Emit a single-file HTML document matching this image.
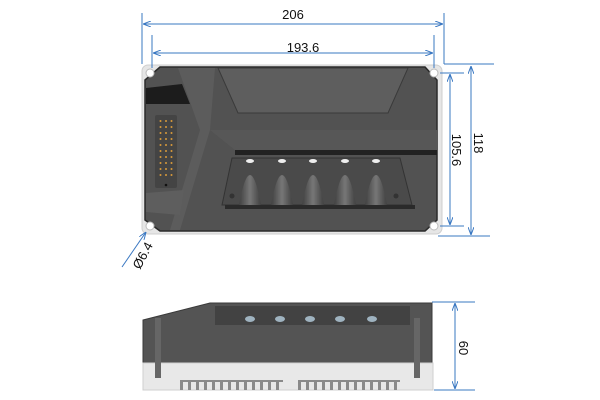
<!DOCTYPE html>
<html><head><meta charset="utf-8"><style>html,body{margin:0;background:#fff}svg{display:block}</style></head><body>
<svg width="600" height="400" viewBox="0 0 600 400" xmlns="http://www.w3.org/2000/svg" font-family="Liberation Sans, sans-serif">
<defs>
<marker id="a" markerWidth="8" markerHeight="6" refX="8" refY="3" orient="auto-start-reverse" markerUnits="userSpaceOnUse"><path d="M0,0 L8,3 L0,6" fill="none" stroke="#3a78c2" stroke-width="1"/></marker>
<linearGradient id="bul" x1="0" x2="1"><stop offset="0" stop-color="#404040"/><stop offset="0.5" stop-color="#777"/><stop offset="1" stop-color="#404040"/></linearGradient>
</defs>
<rect x="142" y="65" width="300" height="169" rx="6" fill="#e6e6e6" stroke="#cfcfcf"/>
<path d="M160,67 L425,67 L437,80 L437,220 L425,231 L160,231 L145,220 L145,80 Z" fill="#525252" stroke="#2a2a2a" stroke-width="1.5"/>
<circle cx="150" cy="73" r="4" fill="#fff" stroke="#bbb"/><circle cx="434" cy="73" r="4" fill="#fff" stroke="#bbb"/>
<circle cx="150" cy="226" r="4" fill="#fff" stroke="#bbb"/><circle cx="434" cy="226" r="4" fill="#fff" stroke="#bbb"/>
<path d="M178,68 L215,68 L210,130 L180,230 L170,230 L200,130 Z" fill="#5c5c5c"/>
<path d="M218,68 L408,68 L388,113 L238,113 Z" fill="#5e5e5e" stroke="#3a3a3a"/>
<path d="M210,130 L437,130 L437,150 L235,150 Z" fill="#575757"/>
<rect x="235" y="150" width="202" height="5" fill="#222"/>
<path d="M232,158 L400,158 L412,205 L222,205 Z" fill="#4a4a4a" stroke="#333"/>
<rect x="225" y="205" width="190" height="4" fill="#2a2a2a"/>
<g fill="url(#bul)"><path d="M239,205 Q250,145 261,205Z"/><path d="M271,205 Q282,145 293,205Z"/><path d="M302,205 Q313,145 324,205Z"/><path d="M334,205 Q345,145 356,205Z"/><path d="M365,205 Q376,145 387,205Z"/></g>
<g fill="#eee"><ellipse cx="250" cy="161" rx="4" ry="2"/><ellipse cx="282" cy="161" rx="4" ry="2"/><ellipse cx="313" cy="161" rx="4" ry="2"/><ellipse cx="345" cy="161" rx="4" ry="2"/><ellipse cx="376" cy="161" rx="4" ry="2"/></g>
<circle cx="232" cy="196" r="2.5" fill="#333"/><circle cx="396" cy="196" r="2.5" fill="#333"/>
<path d="M146,88 L182,84 L190,104 L146,104 Z" fill="#1c1c1c"/>
<path d="M146,193 L184,190 L180,215 L146,212 Z" fill="#5e5e5e"/>
<rect x="155" y="115" width="22" height="73" rx="2" fill="#444"/>
<g fill="#d99a3a">
<circle cx="160.5" cy="121" r="1"/><circle cx="166" cy="121" r="1"/><circle cx="171.5" cy="121" r="1"/>
<circle cx="160.5" cy="127" r="1"/><circle cx="166" cy="127" r="1"/><circle cx="171.5" cy="127" r="1"/>
<circle cx="160.5" cy="133" r="1"/><circle cx="166" cy="133" r="1"/><circle cx="171.5" cy="133" r="1"/>
<circle cx="160.5" cy="139" r="1"/><circle cx="166" cy="139" r="1"/><circle cx="171.5" cy="139" r="1"/>
<circle cx="160.5" cy="145" r="1"/><circle cx="166" cy="145" r="1"/><circle cx="171.5" cy="145" r="1"/>
<circle cx="160.5" cy="151" r="1"/><circle cx="166" cy="151" r="1"/><circle cx="171.5" cy="151" r="1"/>
<circle cx="160.5" cy="157" r="1"/><circle cx="166" cy="157" r="1"/><circle cx="171.5" cy="157" r="1"/>
<circle cx="160.5" cy="163" r="1"/><circle cx="166" cy="163" r="1"/><circle cx="171.5" cy="163" r="1"/>
<circle cx="160.5" cy="169" r="1"/><circle cx="166" cy="169" r="1"/><circle cx="171.5" cy="169" r="1"/>
<circle cx="160.5" cy="175" r="1"/><circle cx="166" cy="175" r="1"/><circle cx="171.5" cy="175" r="1"/>
</g>
<circle cx="166" cy="185" r="1.3" fill="#111"/>
<g stroke="#3a78c2" stroke-width="1" fill="none">
<line x1="142" y1="13" x2="142" y2="64"/><line x1="444" y1="13" x2="444" y2="64"/><line x1="444" y1="64" x2="494" y2="64"/>
<line x1="143" y1="24" x2="443" y2="24" marker-start="url(#a)" marker-end="url(#a)"/>
<line x1="152" y1="35" x2="152" y2="68"/><line x1="434" y1="35" x2="434" y2="68"/>
<line x1="153" y1="53" x2="433" y2="53" marker-start="url(#a)" marker-end="url(#a)"/>
<line x1="440" y1="73" x2="464" y2="73"/><line x1="440" y1="226" x2="464" y2="226"/>
<line x1="450" y1="74" x2="450" y2="225" marker-start="url(#a)" marker-end="url(#a)"/>
<line x1="438" y1="236" x2="490" y2="236"/>
<line x1="471" y1="66" x2="471" y2="235" marker-start="url(#a)" marker-end="url(#a)"/>
<line x1="122" y1="267" x2="146" y2="232" marker-end="url(#a)"/>
</g>
<g font-size="13" fill="#111">
<text x="293" y="19" text-anchor="middle">206</text>
<text x="303" y="52" text-anchor="middle">193.6</text>
<text transform="translate(452,150) rotate(90)" text-anchor="middle">105.6</text>
<text transform="translate(474,143) rotate(90)" text-anchor="middle">118</text>
<text transform="translate(140,270) rotate(-62)">Ø6.4</text>
</g>
<path d="M143,320 L210,303 L432,303 L432,363 L143,363 Z" fill="#545454" stroke="#3a3a3a"/>
<path d="M215,306 L410,306 L410,325 L215,325 Z" fill="#424242"/>
<g fill="#9fb3c0"><ellipse cx="250" cy="319" rx="5" ry="3"/><ellipse cx="280" cy="319" rx="5" ry="3"/><ellipse cx="310" cy="319" rx="5" ry="3"/><ellipse cx="340" cy="319" rx="5" ry="3"/><ellipse cx="372" cy="319" rx="5" ry="3"/></g>
<rect x="143" y="363" width="290" height="27" fill="#e8e8e8" stroke="#cfcfcf"/>
<rect x="155" y="318" width="6" height="60" fill="#666"/><rect x="414" y="318" width="6" height="60" fill="#666"/>
<g fill="#8a8a8a">
<path d="M180,390 v-9 h3 v9 M188,390 v-9 h3 v9 M196,390 v-9 h3 v9 M204,390 v-9 h3 v9 M212,390 v-9 h3 v9 M220,390 v-9 h3 v9 M228,390 v-9 h3 v9 M236,390 v-9 h3 v9 M244,390 v-9 h3 v9 M252,390 v-9 h3 v9 M260,390 v-9 h3 v9 M268,390 v-9 h3 v9 M276,390 v-9 h3 v9 M298,390 v-9 h3 v9 M306,390 v-9 h3 v9 M314,390 v-9 h3 v9 M322,390 v-9 h3 v9 M330,390 v-9 h3 v9 M338,390 v-9 h3 v9 M346,390 v-9 h3 v9 M354,390 v-9 h3 v9 M362,390 v-9 h3 v9 M370,390 v-9 h3 v9 M378,390 v-9 h3 v9 M386,390 v-9 h3 v9 M394,390 v-9 h3 v9"/>
<rect x="180" y="380" width="103" height="2"/><rect x="298" y="380" width="102" height="2"/>
</g>
<g stroke="#3a78c2" stroke-width="1" fill="none">
<line x1="432" y1="302" x2="475" y2="302"/><line x1="434" y1="390" x2="475" y2="390"/>
<line x1="455" y1="303" x2="455" y2="389" marker-start="url(#a)" marker-end="url(#a)"/>
</g>
<text transform="translate(459,348) rotate(90)" text-anchor="middle" font-size="13" fill="#111">60</text>
</svg>
</body></html>
